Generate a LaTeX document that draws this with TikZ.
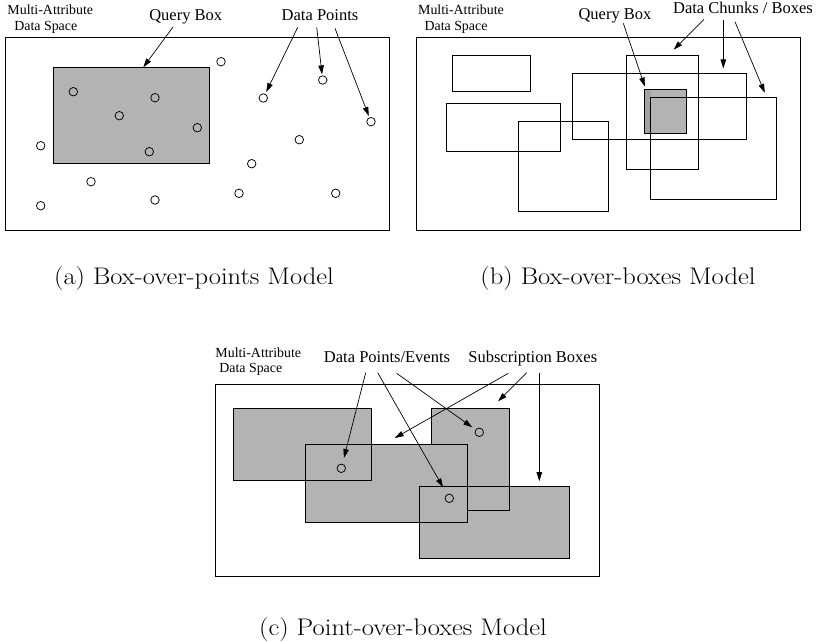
\documentclass[tikz,border=0pt]{standalone}
\usepackage{fontspec}
\newfontfamily\labfont{Liberation Serif}
\usetikzlibrary{arrows.meta}
\definecolor{boxgray}{HTML}{B3B3B3}
\definecolor{boxdark}{HTML}{A2A2A2}
\newcommand{\captext}[1]{\scalebox{1.105}[1]{#1}}
\begin{document}
\begin{tikzpicture}[x=1pt,y=-1pt,
  frame/.style={draw, line width=0.9pt},
  region/.style={fill=boxgray},
  edge/.style={draw, line width=0.9pt},
  pt/.style={circle, draw, line width=0.75pt, minimum size=8.5pt, inner sep=0pt},
  arr/.style={-{Triangle[length=9pt,width=5.5pt]}, line width=0.7pt, shorten >=0.5pt},
  small/.style={font=\labfont\fontsize{13.9}{15}\selectfont, inner sep=0pt, anchor=base},
  big/.style={font=\labfont\fontsize{16.5}{18}\selectfont, inner sep=0pt, anchor=base},
  capt/.style={font=\fontsize{24}{28}\selectfont, inner sep=0pt, anchor=base}]
\useasboundingbox (0,0) rectangle (820,642);

% ---------------- (a) box over points ----------------
\path[frame] (5,37.7) rectangle (389,230);
\path[region, edge] (53.3,67.7) rectangle (209.3,163.3);
\node[small] (aMA) at (50.3,15) {Multi-Attribute};
\node[small] (aDS) at (45.8,31) {Data Space};
\node[big] (aQB) at (185.7,20.7) {Query Box};
\node[big] (aDP) at (320,20.5) {Data Points};
\foreach \n/\x/\y in {1/221/61.7, 2/322.7/80, 3/263.3/98, 4/371/121.7,
  5/73.3/91.7, 6/155/97.7, 7/119.3/115.7, 8/197.3/127.7, 9/40.7/145.7,
  10/149.3/151.7, 11/299.3/139.7, 12/251.7/163.7, 13/91/181.7,
  14/40.7/205.7, 15/155/200, 16/239/193.3, 17/335.7/193.3}
  \node[pt] (a\n) at (\x,\y) {};
\coordinate (aQBs) at (173,27);
\coordinate (aQBe) at (143,67.7);
\coordinate (aP1) at (297.7,27.3);
\coordinate (aP2) at (316.7,27.3);
\coordinate (aP3) at (335,28.3);
\draw[arr] (aQBs) -- (aQBe);
\draw[arr, shorten >=2pt] (aP1) -- (a3);
\draw[arr, shorten >=1pt] (aP2) -- (a2);
\draw[arr, shorten >=1.5pt] (aP3) -- (a4);
\node[capt] (capA) at (194,284.7) {\captext{(a) Box-over-points Model}};

% ---------------- (b) box over boxes ----------------
\path[frame] (416,37.7) rectangle (800.7,230);
\path[region, edge] (644.7,89.3) rectangle (686.7,133.7);
\fill[boxdark] (645.2,89.8) rectangle (650.7,133.2);
\path[edge] (644.7,89.3) rectangle (686.7,133.7);
\path[edge] (452.7,55.7) rectangle (530.3,91);
\path[edge] (446.7,103.7) rectangle (560.7,151.7);
\path[edge] (518.7,121.7) rectangle (608.7,211.3);
\path[edge] (572.3,73.3) rectangle (746.7,139.3);
\path[edge] (626.7,55.7) rectangle (698.7,169.7);
\path[edge] (650.7,97.7) rectangle (776.7,199.3);
\node[small] (bMA) at (461,15) {Multi-Attribute};
\node[small] (bDS) at (456,31) {Data Space};
\node[big] (bQB) at (615,20) {Query Box};
\node[big] (bDC) at (743,13.5) {Data Chunks / Boxes};
\coordinate (bQBs) at (623.3,23.3);
\coordinate (bQBe) at (645,87);
\coordinate (bC1s) at (704,19.3);
\coordinate (bC1e) at (673.3,50);
\coordinate (bC2s) at (723.3,20);
\coordinate (bC2e) at (723.3,69);
\coordinate (bC3s) at (735,21.7);
\coordinate (bC3e) at (765,93.3);
\draw[arr] (bQBs) -- (bQBe);
\draw[arr] (bC1s) -- (bC1e);
\draw[arr] (bC2s) -- (bC2e);
\draw[arr] (bC3s) -- (bC3e);
\node[capt] (capB) at (618,284.7) {\captext{(b) Box-over-boxes Model}};

% ---------------- (c) point over boxes ----------------
\path[frame] (215.7,384.3) rectangle (599.3,576);
% subscription boxes: fills first, then outlines
\fill[boxgray] (233.3,408.3) rectangle (371.3,480.3);
\fill[boxgray] (431.7,408.3) rectangle (509.7,510.3);
\fill[boxgray] (305.3,444.3) rectangle (467.3,522);
\fill[boxgray] (419.3,486.3) rectangle (569.3,558.3);
\path[edge] (233.3,408.3) rectangle (371.3,480.3);
\path[edge] (305.3,444.3) rectangle (467.3,522);
\path[edge] (419.3,486.3) rectangle (569.3,558.3);
\draw[line width=0.9pt] (431.7,444.3) -- (431.7,408.3) -- (509.7,408.3)
  -- (509.7,510.3) -- (467.3,510.3);
\node[pt] (c1) at (479.3,432.3) {};
\node[pt] (c2) at (341.3,468.3) {};
\node[pt] (c3) at (449.3,498.3) {};
\node[small] (cMA) at (258.3,357.3) {Multi-Attribute};
\node[small] (cDS) at (250.8,372.5) {Data Space};
\node[big] (cDP) at (387,362.7) {Data Points/Events};
\node[big] (cSB) at (532.8,362.7) {Subscription Boxes};
\coordinate (cP1) at (365.7,372.7);
\coordinate (cP2) at (377.7,372.7);
\coordinate (cP3) at (396.7,373.3);
\coordinate (cS1s) at (508.3,373.3);
\coordinate (cS1e) at (394.3,438.3);
\coordinate (cS2s) at (526.7,372.7);
\coordinate (cS2e) at (497.7,401.7);
\coordinate (cS3s) at (539.3,373.3);
\coordinate (cS3e) at (539.3,481.7);
\draw[arr, shorten >=6pt] (cP1) -- (c2);
\draw[arr, shorten >=8pt] (cP2) -- (c3);
\draw[arr, shorten >=4pt] (cP3) -- (c1);
\draw[arr] (cS1s) -- (cS1e);
\draw[arr] (cS2s) -- (cS2e);
\draw[arr] (cS3s) -- (cS3e);
\node[capt] (capC) at (403,635) {\captext{(c) Point-over-boxes Model}};
\end{tikzpicture}
\end{document}
